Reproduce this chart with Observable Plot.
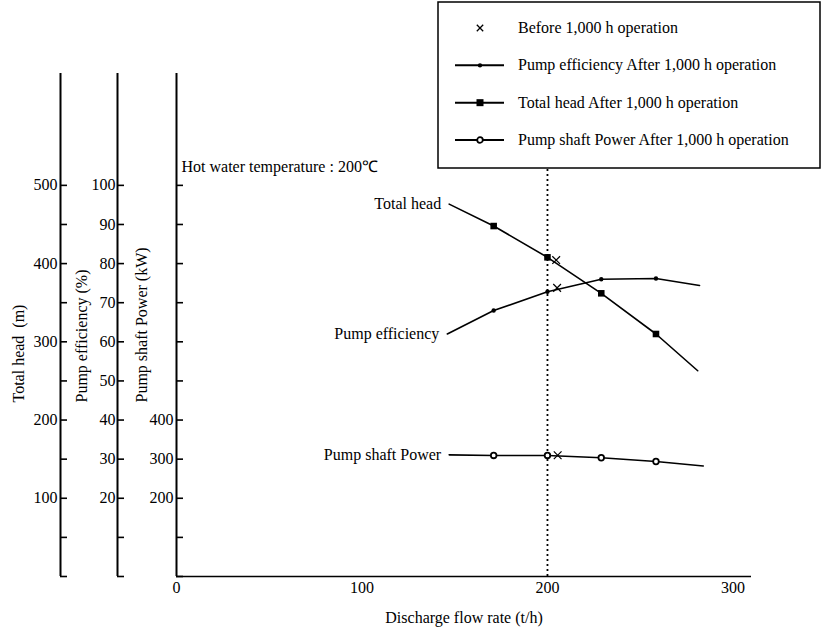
<!DOCTYPE html>
<html><head><meta charset="utf-8">
<script src="https://cdn.jsdelivr.net/npm/d3@7"></script>
<script src="https://cdn.jsdelivr.net/npm/@observablehq/plot@0.6"></script>
<style>
html,body{margin:0;padding:0;background:#fff;}
#wrap{position:relative;width:830px;height:633px;font-family:"Liberation Serif","Times New Roman",serif;}
#legend{position:absolute;left:437px;top:1px;}
</style></head><body><div id="wrap"></div>
<script>
// ---- data (flow in t/h) ----
const flowHead   = [147, 171, 200, 229, 258.5, 281];
const totalHead  = [476, 448, 408, 362, 310, 263];          // m
const flowEff    = [146, 171, 200, 229, 258.5, 282];
const pumpEff    = [62, 68, 72.8, 76, 76.2, 74.4];          // %
const flowPower  = [147, 171, 200, 229, 258.5, 284];
const shaftPower = [311, 309.5, 309.5, 303.6, 294, 282.6];  // kW
const markerFlags = [false, true, true, true, true, false];

const beforeFlow  = [204.7, 205.2, 205.5];
const beforeHead  = 404.5, beforeEff = 73.8, beforePower = 310;

const xTicks      = [0, 100, 200, 300];
const headTicks   = [0, 50, 100, 150, 200, 250, 300, 350, 400, 450, 500];
const headLabels  = [100, 200, 300, 400, 500];
const effTicks    = [0, 10, 20, 30, 40, 50, 60, 70, 80, 90, 100];
const effLabels   = [20, 30, 40, 50, 60, 70, 80, 90, 100];
const powerTicks  = [0, 100, 200, 300, 400, 500, 600, 700, 800, 900, 1000];
const powerLabels = [200, 300, 400];
const designFlow  = 200;

const effToHead = 5, powerToHead = 0.5; // shared vertical scale (head units)

const legendItems = [
  {key: "before", label: "Before 1,000 h operation"},
  {key: "eff",    label: "Pump efficiency After 1,000 h operation"},
  {key: "head",   label: "Total head After 1,000 h operation"},
  {key: "power",  label: "Pump shaft Power After 1,000 h operation"}
];

// ---- tables ----
const headData  = flowHead.map((f, i) => ({flow: f, v: totalHead[i], m: markerFlags[i]}));
const effData   = flowEff.map((f, i) => ({flow: f, v: pumpEff[i] * effToHead, m: markerFlags[i]}));
const powerData = flowPower.map((f, i) => ({flow: f, v: shaftPower[i] * powerToHead, m: markerFlags[i]}));
const beforeData = [
  {flow: beforeFlow[0], v: beforeHead},
  {flow: beforeFlow[1], v: beforeEff * effToHead},
  {flow: beforeFlow[2], v: beforePower * powerToHead}
];
const curveLabels = [
  {...headData[0], t: "Total head"},
  {...effData[0], t: "Pump efficiency"},
  {...powerData[0], t: "Pump shaft Power"}
];

const FONT = "Liberation Serif, Times New Roman, serif";
const LW = 1.6;

const chart = Plot.plot({
  width: 830, height: 633,
  marginLeft: 176, marginRight: 79, marginTop: 73, marginBottom: 57,
  x: {domain: [0, 310]},
  y: {domain: [0, 643]},
  style: {fontFamily: FONT, fontSize: "16px", color: "#000", background: "#fff"},
  marks: [
    // axis lines
    Plot.ruleX([0], {dx: -116, strokeWidth: 2}),
    Plot.ruleX([0], {dx: -59, strokeWidth: 2}),
    Plot.ruleX([0], {strokeWidth: 2}),
    Plot.ruleY([0], {strokeWidth: 1.6}),
    // head axis
    Plot.axisY(headTicks, {anchor: "left", dx: -109, tickSize: 7, fill: "none", strokeWidth: 1.6, label: null}),
    Plot.axisY(headLabels, {anchor: "left", dx: -116, tickSize: 0, tickPadding: 3, stroke: "none", label: null, tickFormat: d => d}),
    // efficiency axis
    Plot.axisY(effTicks.map(v => v * effToHead), {anchor: "left", dx: -52, tickSize: 7, fill: "none", strokeWidth: 1.6, label: null}),
    Plot.axisY(effLabels.map(v => v * effToHead), {anchor: "left", dx: -59, tickSize: 0, tickPadding: 2, stroke: "none", label: null, tickFormat: d => Math.round(d / effToHead)}),
    // power axis
    Plot.axisY(powerTicks.map(v => v * powerToHead), {anchor: "left", dx: 7, tickSize: 7, fill: "none", strokeWidth: 1.6, label: null}),
    Plot.axisY(powerLabels.map(v => v * powerToHead), {anchor: "left", dx: 0, tickSize: 0, tickPadding: 3, stroke: "none", label: null, tickFormat: d => Math.round(d / powerToHead)}),
    // x axis
    Plot.axisX(xTicks, {tickSize: 0, tickPadding: 5, label: null}),
    Plot.text(["Discharge flow rate (t/h)"], {frameAnchor: "bottom", dy: 41, lineAnchor: "middle", fontSize: 16}),
    // axis titles
    Plot.text(["Total head\u00a0\u00a0(m)"], {frameAnchor: "bottom-left", dx: -157.5, dy: -174, rotate: -90, textAnchor: "start", lineAnchor: "middle", fontSize: 16}),
    Plot.text(["Pump efficiency (%)"], {frameAnchor: "bottom-left", dx: -94.5, dy: -174, rotate: -90, textAnchor: "start", lineAnchor: "middle", fontSize: 16}),
    Plot.text(["Pump shaft Power (kW)"], {frameAnchor: "bottom-left", dx: -35, dy: -174, rotate: -90, textAnchor: "start", lineAnchor: "middle", fontSize: 16}),
    // annotation
    Plot.text(["Hot water temperature : 200℃"], {frameAnchor: "top-left", dx: 5, dy: 93, textAnchor: "start", lineAnchor: "middle", fontSize: 16}),
    Plot.ruleX([designFlow], {y1: 0, y2: 528, strokeWidth: 1.8, strokeDasharray: "2,3"}),
    // curves
    Plot.line(headData, {x: "flow", y: "v", strokeWidth: LW}),
    Plot.line(effData, {x: "flow", y: "v", strokeWidth: LW}),
    Plot.line(powerData, {x: "flow", y: "v", strokeWidth: LW}),
    Plot.dot(headData.filter(d => d.m), {x: "flow", y: "v", symbol: "square", fill: "#000", r: 3.7}),
    Plot.dot(effData.filter(d => d.m), {x: "flow", y: "v", symbol: "circle", fill: "#000", r: 2.2}),
    Plot.dot(powerData.filter(d => d.m), {x: "flow", y: "v", symbol: "circle", fill: "#fff", stroke: "#000", strokeWidth: 1.8, r: 2.8}),
    Plot.dot(beforeData, {x: "flow", y: "v", symbol: "times", stroke: "#000", strokeWidth: 1.2, r: 3.6}),
    Plot.text(curveLabels, {x: "flow", y: "v", text: "t", textAnchor: "end", dx: -8, lineAnchor: "middle", fontSize: 16})
  ]
});
document.getElementById("wrap").appendChild(chart);

// ---- legend (overlay box) ----
const lw = 384, lh = 168;
const leg = d3.select("#wrap").append("svg").attr("id", "legend")
  .attr("width", lw).attr("height", lh)
  .style("font-family", FONT).style("font-size", "16px");
leg.append("rect").attr("x", 1).attr("y", 1).attr("width", 382).attr("height", 166)
  .attr("fill", "#fff").attr("stroke", "#000").attr("stroke-width", 1.5);
const rowY = d3.scalePoint().domain(legendItems.map(d => d.key)).range([27, 139]);
const rows = leg.selectAll("g.row").data(legendItems).join("g").attr("class", "row")
  .attr("transform", d => `translate(0,${rowY(d.key)})`);
rows.filter(d => d.key !== "before").append("line")
  .attr("x1", 18).attr("x2", 67).attr("stroke", "#000").attr("stroke-width", 2);
rows.filter(d => d.key === "before").append("path")
  .attr("transform", "translate(43,0)").attr("d", "M-3.2,-3.2L3.2,3.2M-3.2,3.2L3.2,-3.2")
  .attr("stroke", "#000").attr("stroke-width", 1.3);
rows.filter(d => d.key === "eff").append("circle").attr("cx", 43).attr("r", 2.2).attr("fill", "#000");
rows.filter(d => d.key === "head").append("rect").attr("x", 39.5).attr("y", -3.5).attr("width", 7).attr("height", 7).attr("fill", "#000");
rows.filter(d => d.key === "power").append("circle").attr("cx", 43).attr("r", 2.8)
  .attr("fill", "#fff").attr("stroke", "#000").attr("stroke-width", 1.8);
rows.append("text").attr("x", 81).attr("dy", "0.32em").text(d => d.label);
</script></body></html>
